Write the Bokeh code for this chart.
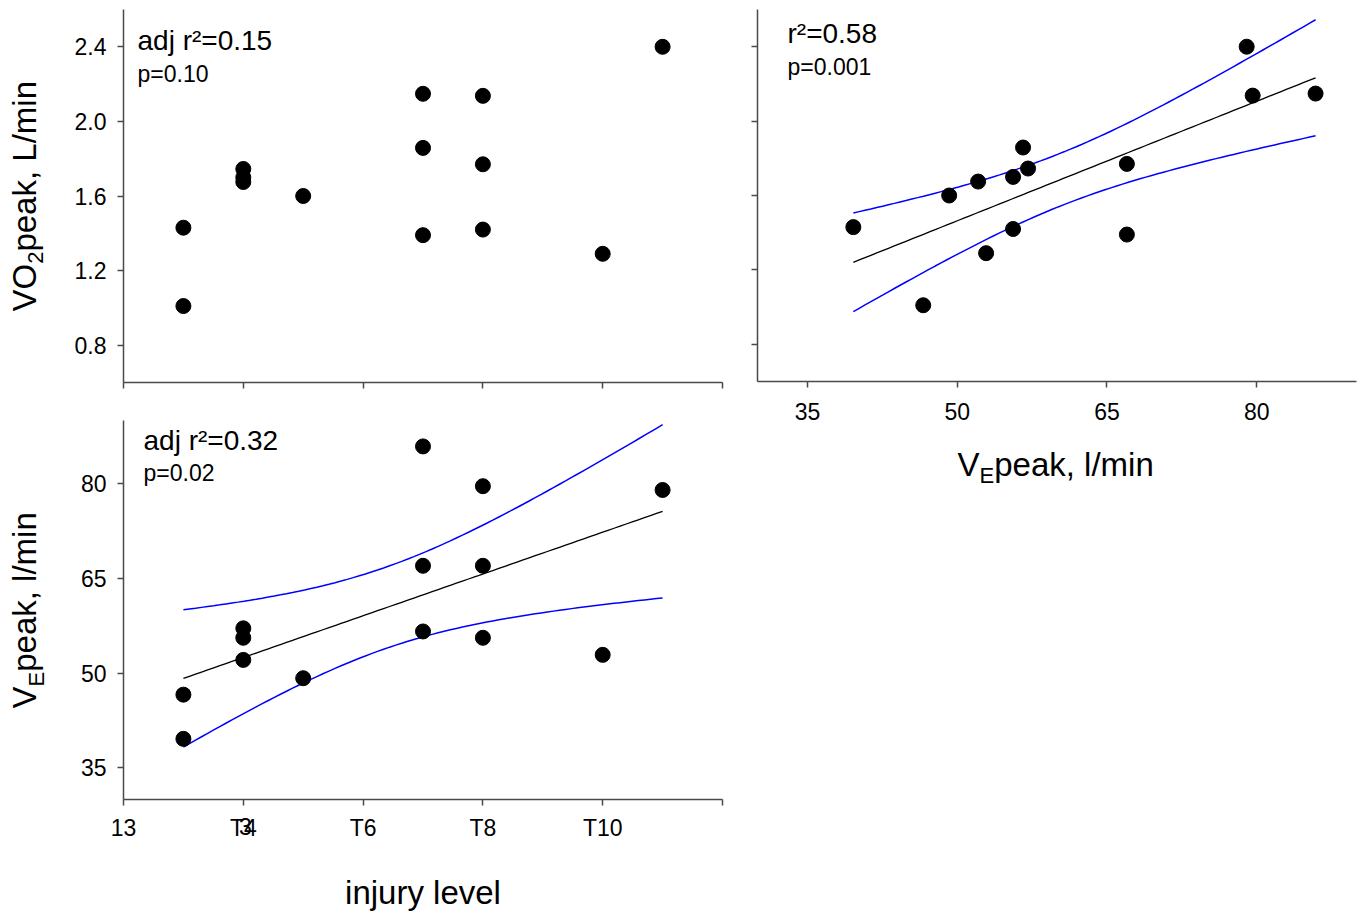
import numpy as np
from bokeh.plotting import figure
from bokeh.layouts import row, column
from bokeh.models import Range1d, FixedTicker, Label
from bokeh.embed import file_html
from bokeh.resources import INLINE

# ---------------- data ----------------
injury_level = [3, 3, 4, 4, 4, 5, 7, 7, 7, 8, 8, 8, 10, 11]
ve_peak = [39.6, 46.6, 57.1, 55.6, 52.1, 49.2, 85.9, 67.0, 56.6, 79.6, 67.0, 55.6, 52.9, 79.0]
vo2_peak = [1.43, 1.01, 1.745, 1.70, 1.675, 1.60, 2.148, 1.39, 1.858, 2.137, 1.77, 1.42, 1.29, 2.40]

injury_ticks = [2, 4, 6, 8, 10, 12]
injury_tick_labels = ["13", "T4", "T6", "T8", "T10", ""]
vo2_ticks = [0.8, 1.2, 1.6, 2.0, 2.4]
vo2_tick_labels = ["0.8", "1.2", "1.6", "2.0", "2.4"]
ve_ticks = [35, 50, 65, 80]
ve_tick_labels = ["35", "50", "65", "80"]

stats_a = ["adj r\u00b2=0.15", "p=0.10"]
stats_b = ["r\u00b2=0.58", "p=0.001"]
stats_c = ["adj r\u00b2=0.32", "p=0.02"]

T_CRIT = 2.179  # two-sided 95 %, df = 12

FONT = "Liberation Sans"
AXIS_COL = "#4a4a4a"
BASE_CORR = 0.36  # empirical baseline correction (em)


def fit_band(x, y, n=80):
    x = np.asarray(x, float)
    y = np.asarray(y, float)
    b, a = np.polyfit(x, y, 1)
    xs = np.linspace(x.min(), x.max(), n)
    yh = a + b * xs
    res = y - (a + b * x)
    s = np.sqrt(np.sum(res ** 2) / (len(x) - 2))
    sxx = np.sum((x - x.mean()) ** 2)
    se = s * np.sqrt(1.0 / len(x) + (xs - x.mean()) ** 2 / sxx)
    return xs, yh, yh + T_CRIT * se, yh - T_CRIT * se


def make_panel(rect, frame, xr, yr):
    """rect: figure box on page (X0, Y0, X1, Y1); frame: axes box (fx0, fx1, fy0, fy1)."""
    X0, Y0, X1, Y1 = rect
    fx0, fx1, fy0, fy1 = frame
    kx = (fx1 - fx0) / (xr[1] - xr[0])
    ky = (fy1 - fy0) / (yr[1] - yr[0])
    x_start = xr[0] - (fx0 - X0) / kx
    x_end = xr[1] + (X1 - fx1) / kx
    y_start = yr[0] - (Y1 - fy1) / ky
    y_end = yr[1] + (fy0 - Y0) / ky
    p = figure(frame_width=X1 - X0, frame_height=Y1 - Y0,
               x_range=Range1d(x_start, x_end), y_range=Range1d(y_start, y_end),
               min_border_left=0, min_border_right=0, min_border_top=0, min_border_bottom=0,
               output_backend="svg", toolbar_location=None, tools="")
    p.outline_line_color = None
    p.grid.visible = False
    p.background_fill_color = "white"
    p.border_fill_color = "white"
    p.xaxis.fixed_location = yr[0]
    p.xaxis.bounds = xr
    p.yaxis.fixed_location = xr[0]
    p.yaxis.bounds = yr
    for ax in p.axis:
        ax.axis_line_color = AXIS_COL
        ax.axis_line_width = 1.5
        ax.major_tick_line_color = AXIS_COL
        ax.major_tick_line_width = 1.5
        ax.major_tick_out = 6
        ax.major_tick_in = 0
        ax.minor_tick_line_color = None
        ax.major_label_text_font = FONT
        ax.major_label_text_font_size = "23px"
        ax.major_label_text_color = "black"

    def conv(px, py):
        return (xr[0] + (px - fx0) / kx, yr[0] + (fy1 - py) / ky)
    return p, conv


def add_text(p, conv, px, py, text, size, align="left", baseline="alphabetic", rotated=False):
    if baseline == "alphabetic":
        if rotated:
            px -= BASE_CORR * size
        else:
            py -= BASE_CORR * size
    x, y = conv(px, py)
    p.add_layout(Label(x=x, y=y, text=text, text_font=FONT, text_font_size=f"{size}px",
                       text_align=align, text_baseline=baseline,
                       angle=np.pi / 2 if rotated else 0.0, text_color="black"))


# ---------------- panel A: VO2 vs injury level ----------------
pA, convA = make_panel((0, 0, 730, 402), (123, 722, 9, 382), (2, 12), (0.6, 2.6))
pA.xaxis.ticker = FixedTicker(ticks=injury_ticks)
pA.xaxis.major_label_overrides = {t: "" for t in injury_ticks}
pA.yaxis.ticker = FixedTicker(ticks=vo2_ticks)
pA.yaxis.major_label_overrides = dict(zip(vo2_ticks, vo2_tick_labels))
pA.yaxis.major_label_standoff = 11
pA.scatter(injury_level, vo2_peak, size=15, color="black", marker="circle")
add_text(pA, convA, 137, 50, stats_a[0], 28)
add_text(pA, convA, 137, 82, stats_a[1], 23)
add_text(pA, convA, 36, 311, "VO", 33, rotated=True)
add_text(pA, convA, 43, 311 - 47.7, "2", 22, rotated=True)
add_text(pA, convA, 36, 311 - 47.7 - 12.2, "peak, L/min", 33, rotated=True)

# ---------------- panel C: VE vs injury level ----------------
pC, convC = make_panel((0, 402, 730, 915), (123, 722, 420, 799), (2, 12), (30, 90))
pC.xaxis.ticker = FixedTicker(ticks=injury_ticks)
pC.xaxis.major_label_overrides = dict(zip(injury_ticks, injury_tick_labels))
pC.xaxis.major_label_standoff = 9
pC.yaxis.ticker = FixedTicker(ticks=ve_ticks)
pC.yaxis.major_label_overrides = dict(zip(ve_ticks, ve_tick_labels))
pC.yaxis.major_label_standoff = 11
xs, yh, up, lo = fit_band(injury_level, ve_peak)
pC.line(xs, up, color="#0000ff", line_width=1.5)
pC.line(xs, lo, color="#0000ff", line_width=1.5)
pC.line(xs, yh, color="black", line_width=1.3)
pC.scatter(injury_level, ve_peak, size=15, color="black", marker="circle")
add_text(pC, convC, 143, 450, stats_c[0], 28)
add_text(pC, convC, 143, 481, stats_c[1], 23)
# overlapping "3" on the T4 tick label
add_text(pC, convC, 245, 817, "3", 23, align="center", baseline="top")
add_text(pC, convC, 422.5, 904, "injury level", 33, align="center")
add_text(pC, convC, 36, 708, "V", 33, rotated=True)
add_text(pC, convC, 44, 708 - 22.0, "E", 22, rotated=True)
add_text(pC, convC, 36, 708 - 22.0 - 14.7, "peak, l/min", 33, rotated=True)

# ---------------- panel B: VO2 vs VE ----------------
pB, convB = make_panel((730, 0, 1358, 500), (757, 1356, 9, 381), (30, 90), (0.6, 2.6))
pB.xaxis.ticker = FixedTicker(ticks=ve_ticks)
pB.xaxis.major_label_overrides = dict(zip(ve_ticks, ve_tick_labels))
pB.xaxis.major_label_standoff = 15
pB.yaxis.ticker = FixedTicker(ticks=vo2_ticks)
pB.yaxis.major_label_overrides = {t: "" for t in vo2_ticks}
xs, yh, up, lo = fit_band(ve_peak, vo2_peak)
pB.line(xs, up, color="#0000ff", line_width=1.5)
pB.line(xs, lo, color="#0000ff", line_width=1.5)
pB.line(xs, yh, color="black", line_width=1.3)
pB.scatter(ve_peak, vo2_peak, size=15, color="black", marker="circle")
add_text(pB, convB, 787, 43, stats_b[0], 28)
add_text(pB, convB, 787, 75, stats_b[1], 23)
add_text(pB, convB, 957, 476, "V", 33)
add_text(pB, convB, 957 + 22.0, 483, "E", 22)
add_text(pB, convB, 957 + 22.0 + 14.7, 476, "peak, l/min", 33)

layout = row(column(pA, pC, spacing=0), pB, spacing=0)

open("out.html", "w").write(file_html(layout, INLINE))
